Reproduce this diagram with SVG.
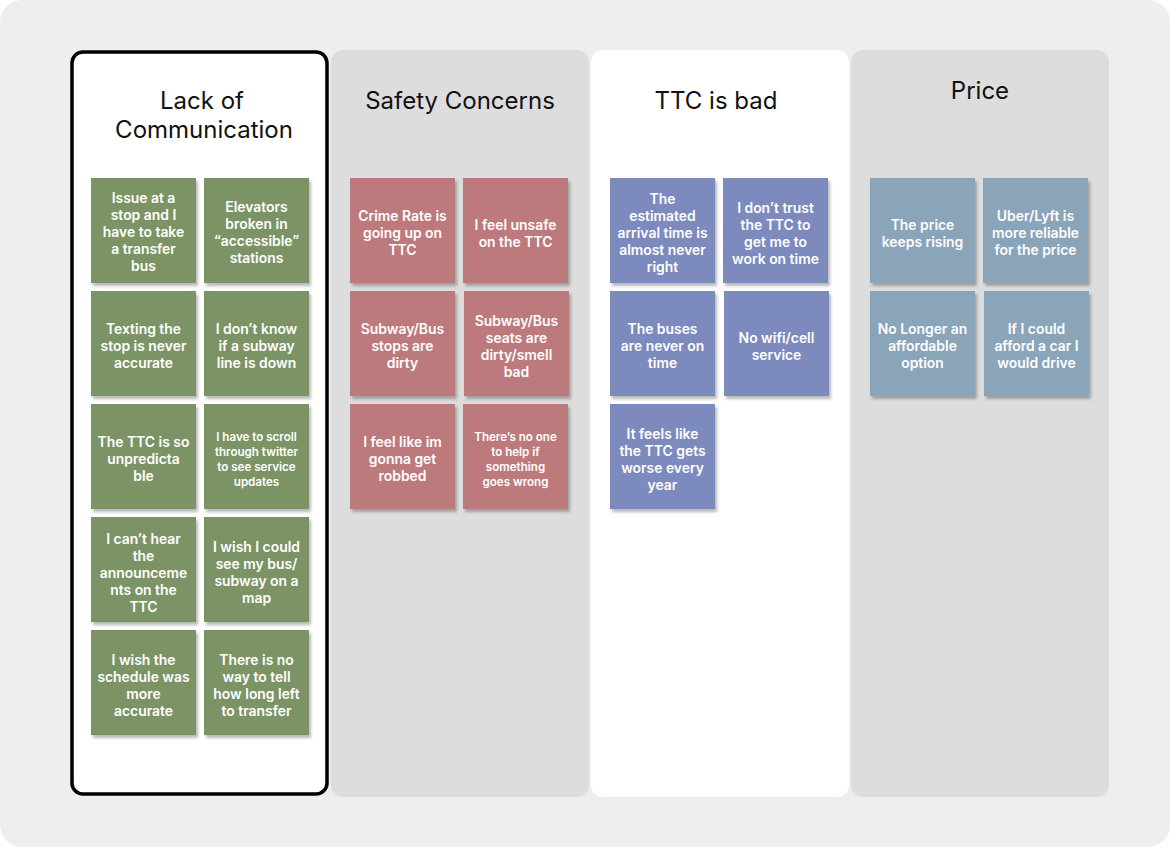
<svg xmlns="http://www.w3.org/2000/svg" width="1170" height="847" viewBox="0 0 1170 847">
<defs>
<filter id="sh" x="-10%" y="-10%" width="130%" height="130%">
<feDropShadow dx="2" dy="3" stdDeviation="1.8" flood-color="#000" flood-opacity="0.28"/>
</filter>
<style>
.hd{font-family:Inter,"Liberation Sans",sans-serif;font-size:24px;fill:#111;text-anchor:middle}
.nt{font-family:Inter,"Liberation Sans",sans-serif;font-size:13.9px;font-weight:600;fill:#fff;text-anchor:middle;transform:translateY(1.5px)}
.sm{font-size:11.6px}
.g{fill:#7b9465}
.r{fill:#bd7a7b}
.b{fill:#7b8abd}
.p{fill:#8aa4b9}
.note rect{filter:url(#sh)}
</style>
</defs>
<rect x="0" y="0" width="1170" height="847" fill="#fff"/>
<rect x="0" y="0" width="1170" height="847" rx="22" fill="#eeeeee"/>

<g id="col-safety"><rect x="331" y="50" width="258" height="747" rx="12" fill="#dddddd"/>
<text class="hd" x="460" y="109">Safety Concerns</text></g>
<g id="col-ttc"><rect x="591" y="50" width="258" height="747" rx="12" fill="#ffffff"/>
<text class="hd" x="716" y="109">TTC is bad</text></g>
<g id="col-price"><rect x="851" y="50" width="258" height="747" rx="12" fill="#dddddd"/>
<text class="hd" x="980" y="99">Price</text></g>
<g id="col-comm"><rect x="72" y="52" width="255" height="742" rx="11" fill="#ffffff" stroke="#000" stroke-width="3.5"/>
<text class="hd" x="202" y="109">Lack of</text><text class="hd" x="204" y="138">Communication</text></g>

<g id="connectors"></g>

<!-- Column 1 -->
<g id="n1" class="note"><rect class="g" x="91" y="178" width="105" height="105"/>
<text class="nt" x="143.5"><tspan x="143.5" y="201">Issue at a</tspan><tspan x="143.5" y="218">stop and I</tspan><tspan x="143.5" y="235">have to take</tspan><tspan x="143.5" y="252">a transfer</tspan><tspan x="143.5" y="269">bus</tspan></text></g>
<g id="n2" class="note"><rect class="g" x="204" y="178" width="105" height="105"/>
<text class="nt"><tspan x="256.5" y="210">Elevators</tspan><tspan x="256.5" y="227">broken in</tspan><tspan x="256.5" y="244">“accessible”</tspan><tspan x="256.5" y="261">stations</tspan></text></g>
<g id="n3" class="note"><rect class="g" x="91" y="291" width="105" height="105"/>
<text class="nt"><tspan x="143.5" y="332">Texting the</tspan><tspan x="143.5" y="349">stop is never</tspan><tspan x="143.5" y="366">accurate</tspan></text></g>
<g id="n4" class="note"><rect class="g" x="204" y="291" width="105" height="105"/>
<text class="nt"><tspan x="256.5" y="332">I don’t know</tspan><tspan x="256.5" y="349">if a subway</tspan><tspan x="256.5" y="366">line is down</tspan></text></g>
<g id="n5" class="note"><rect class="g" x="91" y="404" width="105" height="105"/>
<text class="nt"><tspan x="143.5" y="445">The TTC is so</tspan><tspan x="143.5" y="462">unpredicta</tspan><tspan x="143.5" y="479">ble</tspan></text></g>
<g id="n6" class="note"><rect class="g" x="204" y="404" width="105" height="105"/>
<text class="nt sm"><tspan x="256.5" y="439">I have to scroll</tspan><tspan x="256.5" y="454">through twitter</tspan><tspan x="256.5" y="469">to see service</tspan><tspan x="256.5" y="484">updates</tspan></text></g>
<g id="n7" class="note"><rect class="g" x="91" y="517" width="105" height="105"/>
<text class="nt"><tspan x="143.5" y="542">I can’t hear</tspan><tspan x="143.5" y="559">the</tspan><tspan x="143.5" y="576">announceme</tspan><tspan x="143.5" y="593">nts on the</tspan><tspan x="143.5" y="610">TTC</tspan></text></g>
<g id="n8" class="note"><rect class="g" x="204" y="517" width="105" height="105"/>
<text class="nt"><tspan x="256.5" y="550">I wish I could</tspan><tspan x="256.5" y="567">see my bus/</tspan><tspan x="256.5" y="584">subway on a</tspan><tspan x="256.5" y="601">map</tspan></text></g>
<g id="n9" class="note"><rect class="g" x="91" y="630" width="105" height="105"/>
<text class="nt"><tspan x="143.5" y="663">I wish the</tspan><tspan x="143.5" y="680">schedule was</tspan><tspan x="143.5" y="697">more</tspan><tspan x="143.5" y="714">accurate</tspan></text></g>
<g id="n10" class="note"><rect class="g" x="204" y="630" width="105" height="105"/>
<text class="nt"><tspan x="256.5" y="663">There is no</tspan><tspan x="256.5" y="680">way to tell</tspan><tspan x="256.5" y="697">how long left</tspan><tspan x="256.5" y="714">to transfer</tspan></text></g>

<!-- Column 2 -->
<g id="n11" class="note"><rect class="r" x="350" y="178" width="105" height="105"/>
<text class="nt"><tspan x="402.5" y="219">Crime Rate is</tspan><tspan x="402.5" y="236">going up on</tspan><tspan x="402.5" y="253">TTC</tspan></text></g>
<g id="n12" class="note"><rect class="r" x="463" y="178" width="105" height="105"/>
<text class="nt"><tspan x="515.5" y="228">I feel unsafe</tspan><tspan x="515.5" y="245">on the TTC</tspan></text></g>
<g id="n13" class="note"><rect class="r" x="350" y="291" width="105" height="105"/>
<text class="nt"><tspan x="402.5" y="332">Subway/Bus</tspan><tspan x="402.5" y="349">stops are</tspan><tspan x="402.5" y="366">dirty</tspan></text></g>
<g id="n14" class="note"><rect class="r" x="464" y="291" width="105" height="105"/>
<text class="nt"><tspan x="516.5" y="324">Subway/Bus</tspan><tspan x="516.5" y="341">seats are</tspan><tspan x="516.5" y="358">dirty/smell</tspan><tspan x="516.5" y="375">bad</tspan></text></g>
<g id="n15" class="note"><rect class="r" x="350" y="404" width="105" height="105"/>
<text class="nt"><tspan x="402.5" y="445">I feel like im</tspan><tspan x="402.5" y="462">gonna get</tspan><tspan x="402.5" y="479">robbed</tspan></text></g>
<g id="n16" class="note"><rect class="r" x="463" y="404" width="105" height="105"/>
<text class="nt sm"><tspan x="515.5" y="439">There’s no one</tspan><tspan x="515.5" y="454">to help if</tspan><tspan x="515.5" y="469">something</tspan><tspan x="515.5" y="484">goes wrong</tspan></text></g>

<!-- Column 3 -->
<g id="n17" class="note"><rect class="b" x="610" y="178" width="105" height="105"/>
<text class="nt"><tspan x="662.5" y="202">The</tspan><tspan x="662.5" y="219">estimated</tspan><tspan x="662.5" y="236">arrival time is</tspan><tspan x="662.5" y="253">almost never</tspan><tspan x="662.5" y="270">right</tspan></text></g>
<g id="n18" class="note"><rect class="b" x="723" y="178" width="105" height="105"/>
<text class="nt"><tspan x="775.5" y="211">I don’t trust</tspan><tspan x="775.5" y="228">the TTC to</tspan><tspan x="775.5" y="245">get me to</tspan><tspan x="775.5" y="262">work on time</tspan></text></g>
<g id="n19" class="note"><rect class="b" x="610" y="291" width="105" height="105"/>
<text class="nt"><tspan x="662.5" y="332">The buses</tspan><tspan x="662.5" y="349">are never on</tspan><tspan x="662.5" y="366">time</tspan></text></g>
<g id="n20" class="note"><rect class="b" x="724" y="291" width="105" height="105"/>
<text class="nt"><tspan x="776.5" y="341">No wifi/cell</tspan><tspan x="776.5" y="358">service</tspan></text></g>
<g id="n21" class="note"><rect class="b" x="610" y="404" width="105" height="105"/>
<text class="nt"><tspan x="662.5" y="437">It feels like</tspan><tspan x="662.5" y="454">the TTC gets</tspan><tspan x="662.5" y="471">worse every</tspan><tspan x="662.5" y="488">year</tspan></text></g>

<!-- Column 4 -->
<g id="n22" class="note"><rect class="p" x="870" y="178" width="105" height="105"/>
<text class="nt"><tspan x="922.5" y="228">The price</tspan><tspan x="922.5" y="245">keeps rising</tspan></text></g>
<g id="n23" class="note"><rect class="p" x="983" y="178" width="105" height="105"/>
<text class="nt"><tspan x="1035.5" y="219">Uber/Lyft is</tspan><tspan x="1035.5" y="236">more reliable</tspan><tspan x="1035.5" y="253">for the price</tspan></text></g>
<g id="n24" class="note"><rect class="p" x="870" y="291" width="105" height="105"/>
<text class="nt"><tspan x="922.5" y="332">No Longer an</tspan><tspan x="922.5" y="349">affordable</tspan><tspan x="922.5" y="366">option</tspan></text></g>
<g id="n25" class="note"><rect class="p" x="984" y="291" width="105" height="105"/>
<text class="nt"><tspan x="1036.5" y="332">If I could</tspan><tspan x="1036.5" y="349">afford a car I</tspan><tspan x="1036.5" y="366">would drive</tspan></text></g>
</svg>
